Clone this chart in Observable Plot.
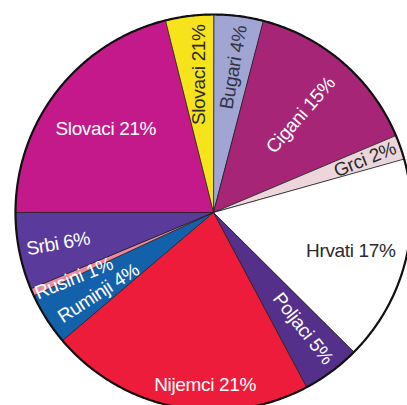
<!DOCTYPE html>
<html>
<head>
<meta charset="utf-8">
<script src="https://cdn.jsdelivr.net/npm/d3@7"></script>
<script src="https://cdn.jsdelivr.net/npm/@observablehq/plot@0.6"></script>
<style>
  html, body { margin: 0; padding: 0; background: #fff; }
  #chart svg text { letter-spacing: -0.35px; }
</style>
</head>
<body>
<div id="chart"></div>
<script>
// ---- data (clockwise from 12 o'clock) ----
const ids = ["bugari","cigani","grci","hrvati","poljaci","nijemci","ruminji","rusini","srbi","slovaci","slovaci2"];
const shares = [4.05, 14.6, 2.0, 16.8, 4.75, 21.6, 4.3, 0.6, 6.3, 21.1, 3.9];
const labels = ["Bugari 4%","Cigani 15%","Grci 2%","Hrvati 17%","Poljaci 5%","Nijemci 21%","Ruminji 4%","Rusini 1%","Srbi 6%","Slovaci 21%","Slovaci 21%"];

// ---- styles ----
const sliceColors = ["#a0a5d3","#a72576","#ecd6dc","#ffffff","#54308a","#ec1c3a","#1461ab","#e98aa2","#5a3b9c","#c3198b","#f6e31b"];
const textColors = ["#333340","#ffffff","#2a2a2a","#2a2a2a","#ffffff","#ffffff","#ffffff","#ffffff","#ffffff","#ffffff","#2a2a2a"];
// label placement: radius fraction, angle offset (deg), rotation (deg)
const labelRadius = [0.74, 0.66, 0.81, 0.72, 0.74, 0.87, 0.71, 0.78, 0.80, 0.69, 0.70];
const labelAngleOffset = [0.6, 1, 0, 1, -1, -8, -2.5, -1.5, 0, 0, 0.8];
const labelRotate = [-80, -49, -22, 0, 52, 0, -33, -22, -10, 0, -90];

// ---- layout ----
const W = 407, H = 405, cx = 213, cy = 212, R = 198;

const pie = d3.pie().sort(null).value(d => d)(shares);
const pts = [];
pie.forEach((p, i) => {
  pts.push({id: ids[i], fill: sliceColors[i], x: 0, y: 0});
  const n = Math.max(2, Math.ceil((p.endAngle - p.startAngle) / (Math.PI / 360)));
  for (let k = 0; k <= n; k++) {
    const a = p.startAngle + (p.endAngle - p.startAngle) * k / n;
    pts.push({id: ids[i], fill: sliceColors[i], x: Math.sin(a), y: -Math.cos(a)});
  }
});
const ring = d3.range(0, 721).map(k => {
  const a = k / 720 * 2 * Math.PI;
  return {x: Math.sin(a), y: -Math.cos(a)};
});
const texts = pie.map((p, i) => {
  const a = (p.startAngle + p.endAngle) / 2 + labelAngleOffset[i] * Math.PI / 180;
  return {
    label: labels[i],
    x: labelRadius[i] * Math.sin(a),
    y: -labelRadius[i] * Math.cos(a),
    rotate: labelRotate[i],
    fill: textColors[i]
  };
});

const chart = Plot.plot({
  width: W, height: H,
  margin: 0,
  x: {domain: [-cx / R, (W - cx) / R], axis: null},
  y: {domain: [-cy / R, (H - cy) / R], range: [0, H], axis: null},
  color: {type: "identity"},
  style: {background: "#fff", fontFamily: "'Liberation Sans', Arial, sans-serif"},
  marks: [
    Plot.line(pts, {x: "x", y: "y", z: "id", fill: "fill", stroke: "#1c1c1c", strokeWidth: 0.8, curve: "linear-closed"}),
    Plot.line(ring, {x: "x", y: "y", stroke: "#111", strokeWidth: 2.2, curve: "linear-closed"}),
    Plot.text(texts, {x: "x", y: "y", text: "label", rotate: "rotate", fill: "fill", fontSize: 19, textAnchor: "middle"})
  ]
});
document.getElementById("chart").appendChild(chart);
</script>
</body>
</html>
